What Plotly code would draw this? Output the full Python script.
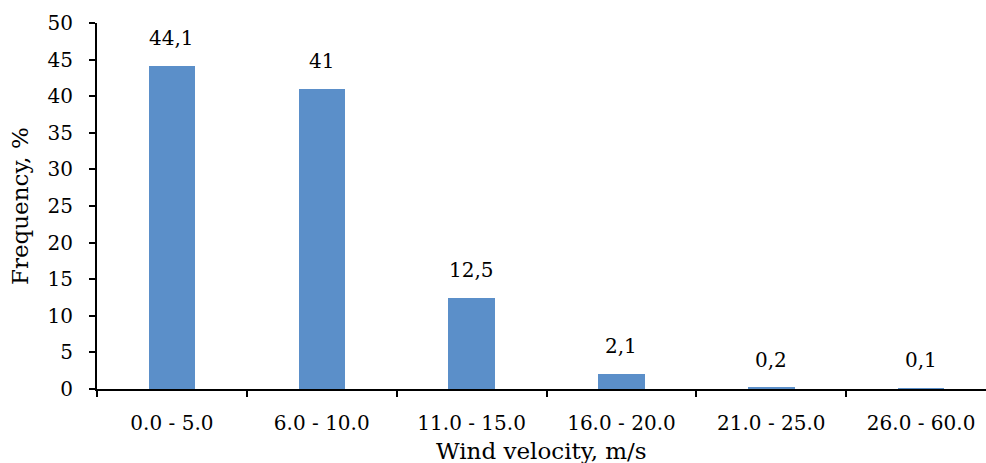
import plotly.graph_objects as go

categories = ["0.0 - 5.0", "6.0 - 10.0", "11.0 - 15.0", "16.0 - 20.0", "21.0 - 25.0", "26.0 - 60.0"]
frequency = [44.1, 41, 12.5, 2.1, 0.2, 0.1]
y_ticks = [0, 5, 10, 15, 20, 25, 30, 35, 40, 45, 50]

FONT = "DejaVu Serif"
labels = [(f"{v:g}").replace(".", ",") for v in frequency]

fig = go.Figure()
fig.add_trace(go.Bar(
    x=list(range(len(categories))), y=frequency, width=0.31,
    marker=dict(color="#5b8fc9", line=dict(width=0)),
    hoverinfo="skip",
))
for i, (v, t) in enumerate(zip(frequency, labels)):
    fig.add_annotation(x=i, y=v, text=t, showarrow=False, xref="x", yref="y",
                       yanchor="middle", yshift=28,
                       font=dict(family=FONT, size=20, color="#000"))

fig.add_annotation(text="Frequency, %", textangle=-90, xref="paper", yref="paper",
                   x=0, y=0.5, xanchor="center", yanchor="middle", xshift=-77,
                   showarrow=False, font=dict(family=FONT, size=23, color="#000"))
fig.add_annotation(text="Wind velocity, m/s", xref="paper", yref="paper",
                   x=0.5, y=0, xanchor="center", yanchor="middle", yshift=-62,
                   showarrow=False, font=dict(family=FONT, size=23, color="#000"))

fig.update_layout(
    width=986, height=463,
    margin=dict(l=97, r=0, t=23, b=74),
    plot_bgcolor="white", paper_bgcolor="white",
    showlegend=False,
    bargap=0,
    xaxis=dict(
        tickmode="array", tickvals=list(range(len(categories))), ticktext=categories,
        range=[-0.5, 5.433], showgrid=False, zeroline=False,
        showline=True, linecolor="#000", linewidth=2,
        ticks="", tickfont=dict(family=FONT, size=20, color="#000"),
        ticklabelstandoff=15,
    ),
    xaxis2=dict(
        overlaying="x", matches="x", tickmode="array",
        tickvals=[-0.5, 0.5, 1.5, 2.5, 3.5, 4.5], ticktext=[""] * 6,
        ticks="outside", ticklen=7, tickwidth=2, tickcolor="#000",
        side="bottom", showgrid=False, zeroline=False, showline=False,
        anchor="y",
    ),
    yaxis=dict(
        range=[0, 50], tickvals=y_ticks, showgrid=False, zeroline=False,
        showline=True, linecolor="#000", linewidth=2,
        ticks="outside", ticklen=6, tickwidth=2, tickcolor="#000",
        tickfont=dict(family=FONT, size=20, color="#000"),
        ticklabelstandoff=12,
    ),
)
fig.add_trace(go.Scatter(x=[-0.5], y=[0], xaxis="x2", mode="markers",
                         marker=dict(opacity=0), hoverinfo="skip", showlegend=False))

fig.write_html("out.html")
